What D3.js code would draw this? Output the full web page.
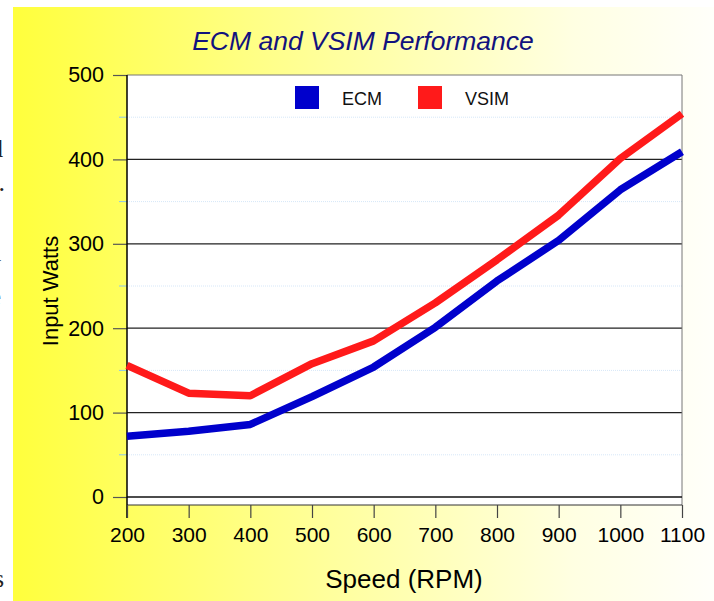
<!DOCTYPE html>
<html lang="en">
  <head>
    <meta charset="utf-8">
    <title>ECM and VSIM Performance</title>
    <script src="https://cdn.jsdelivr.net/npm/d3@7"></script>
    <style>
      body { margin: 0; background: #fff; }
      svg { display: block; }
    </style>
  </head>
  <body>
    <script>
     // data
     const speeds = [200, 300, 400, 500, 600, 700, 800, 900, 1000, 1100];
     const ecmWatts = [72, 78, 86, 119, 154, 201, 256, 304, 364, 409];
     const vsimWatts = [156, 123, 120, 158, 185, 230, 281, 334, 401, 454];
     const seriesNames = ["ECM", "VSIM"];
     const seriesColors = ["#0000cc", "#ff1a1a"];
     const yMajorTicks = [0, 100, 200, 300, 400, 500];
     const yMinorTicks = [50, 150, 250, 350, 450];

     const w = 714, h = 601;
     const margin = {top: 75, right: 32, bottom: 104, left: 127};

     const svg = d3.select("body").append("svg")
       .attr("width", w)
       .attr("height", h);

     // yellow slide background
     const grad = svg.append("defs").append("linearGradient")
       .attr("id", "bg").attr("x1", "0").attr("y1", "0").attr("x2", "1").attr("y2", "0");
     grad.append("stop").attr("offset", "0").attr("stop-color", "#ffff3c");
     grad.append("stop").attr("offset", "0.45").attr("stop-color", "#ffff9c");
     grad.append("stop").attr("offset", "0.8").attr("stop-color", "#ffffe2");
     grad.append("stop").attr("offset", "1").attr("stop-color", "#fffffa");
     svg.append("rect")
       .attr("x", 13).attr("y", 7)
       .attr("width", w - 13).attr("height", h - 7)
       .attr("fill", "url(#bg)");

     // slivers of slide text cut off at the left edge
     const frag = svg.append("g")
       .attr("font-family", "Liberation Serif, serif")
       .attr("font-size", 26)
       .attr("fill", "#222")
       .attr("text-anchor", "end");
     [["d", 3, 157], [".", 5, 191], ["y", 1, 272], ["e", 1, 305], [".", 1, 370], ["s", 4, 587]]
       .forEach(f => frag.append("text").attr("x", f[1]).attr("y", f[2]).text(f[0]));

     const x = d3.scaleLinear()
       .domain([200, 1100])
       .range([margin.left, w - margin.right]);
     const y = d3.scaleLinear()
       .domain([0, 500])
       .range([h - margin.bottom, margin.top]);

     const x0 = x(200), x1 = x(1100);

     // plot box
     svg.append("rect")
       .attr("x", x0).attr("y", y(500))
       .attr("width", x1 - x0).attr("height", y(0) + 8 - y(500))
       .attr("fill", "#fff");

     // minor grid (dotted light blue) and minor ticks
     svg.append("g").selectAll("line")
       .data(yMinorTicks).enter().append("line")
       .attr("x1", x0).attr("x2", x1)
       .attr("y1", d => y(d)).attr("y2", d => y(d))
       .attr("stroke", "#d6e7f8")
       .attr("stroke-dasharray", "1,1");
     svg.append("g").selectAll("line")
       .data(yMinorTicks).enter().append("line")
       .attr("x1", x0 - 8).attr("x2", x0)
       .attr("y1", d => y(d)).attr("y2", d => y(d))
       .attr("stroke", "#8cc6ee");

     // major grid
     svg.append("g").selectAll("line")
       .data(yMajorTicks.filter(d => d > 0 && d < 500)).enter().append("line")
       .attr("x1", x0).attr("x2", x1)
       .attr("y1", d => y(d)).attr("y2", d => y(d))
       .attr("stroke", "#222")
       .attr("stroke-width", 1.3);

     // box borders
     svg.append("line").attr("x1", x0).attr("x2", x1).attr("y1", y(500)).attr("y2", y(500))
       .attr("stroke", "#777");
     svg.append("line").attr("x1", x1).attr("x2", x1).attr("y1", y(500)).attr("y2", y(0) + 8)
       .attr("stroke", "#777");
     svg.append("line").attr("x1", x0).attr("x2", x1).attr("y1", y(0) + 8).attr("y2", y(0) + 8)
       .attr("stroke", "#333");
     svg.append("line").attr("x1", x0).attr("x2", x1).attr("y1", y(0)).attr("y2", y(0))
       .attr("stroke", "#111").attr("stroke-width", 1.3);

     // y axis
     const yAxis = svg.append("g")
       .attr("transform", `translate(${x0},0)`)
       .call(d3.axisLeft(y).tickValues(yMajorTicks).tickSize(14).tickPadding(9));
     yAxis.select(".domain").remove();
     yAxis.selectAll(".tick line").attr("stroke", "#555").attr("stroke-width", 1.2);
     yAxis.selectAll("text")
       .attr("font-family", "Liberation Sans, Arial, sans-serif")
       .attr("font-size", 21.5)
       .attr("fill", "#000");
     svg.append("line").attr("x1", x0).attr("x2", x0).attr("y1", y(500)).attr("y2", y(0) + 21)
       .attr("stroke", "#000").attr("stroke-width", 1.5);

     // x axis
     const xAxis = svg.append("g")
       .attr("transform", `translate(0,${y(0) + 8})`)
       .call(d3.axisBottom(x).tickValues(speeds).tickSize(13).tickPadding(9).tickFormat(d3.format("d")));
     xAxis.select(".domain").remove();
     xAxis.selectAll(".tick line").attr("stroke", "#444").attr("stroke-width", 1.2);
     xAxis.selectAll("text")
       .attr("font-family", "Liberation Sans, Arial, sans-serif")
       .attr("font-size", 21)
       .attr("fill", "#000");

     // lines
     const line = d3.line()
       .x((d, i) => x(speeds[i]))
       .y(d => y(d));
     [ecmWatts, vsimWatts].forEach((vals, k) => {
       svg.append("path")
         .datum(vals)
         .attr("d", line)
         .attr("fill", "none")
         .attr("stroke", seriesColors[k])
         .attr("stroke-width", 7.5)
         .attr("stroke-linejoin", "bevel");
     });

     // legend
     const legendX = [295, 418];
     seriesNames.forEach((name, k) => {
       svg.append("rect")
         .attr("x", legendX[k]).attr("y", 86)
         .attr("width", 24).attr("height", 23)
         .attr("fill", seriesColors[k]);
       svg.append("text")
         .attr("x", legendX[k] + 47).attr("y", 105)
         .attr("font-family", "Liberation Sans, Arial, sans-serif")
         .attr("font-size", 18)
         .attr("fill", "#111")
         .text(name);
     });

     // title and axis labels
     svg.append("text")
       .attr("x", 363).attr("y", 50)
       .attr("text-anchor", "middle")
       .attr("font-family", "Liberation Sans, Arial, sans-serif")
       .attr("font-style", "italic")
       .attr("font-size", 26.5)
       .attr("fill", "#12127e")
       .text("ECM and VSIM Performance");

     svg.append("text")
       .attr("x", 404).attr("y", 588)
       .attr("text-anchor", "middle")
       .attr("font-family", "Liberation Sans, Arial, sans-serif")
       .attr("font-size", 26)
       .attr("fill", "#000")
       .text("Speed (RPM)");

     svg.append("text")
       .attr("transform", "translate(58,291) rotate(-90)")
       .attr("text-anchor", "middle")
       .attr("font-family", "Liberation Sans, Arial, sans-serif")
       .attr("font-size", 22)
       .attr("fill", "#000")
       .text("Input Watts");
    </script>
  </body>
</html>
